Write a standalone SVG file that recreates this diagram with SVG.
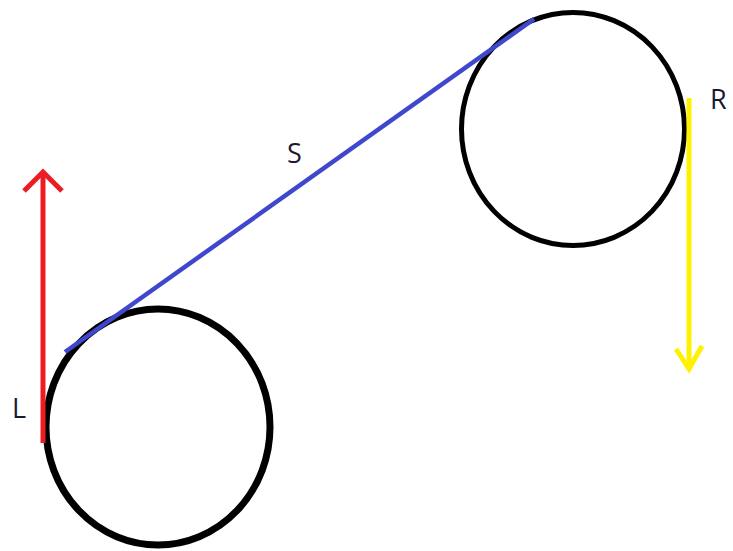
<svg xmlns="http://www.w3.org/2000/svg" width="733" height="551" viewBox="0 0 733 551">
<style>
.lbl{font-family:"Open Sans","Liberation Sans",sans-serif;font-size:27px;fill:#1a1a2e}
.wheel{fill:none;stroke:#000}
</style>
<rect width="733" height="551" fill="#fff"/>
<g id="wheel-left"><ellipse class="wheel" cx="158" cy="427" rx="112" ry="118" stroke-width="7"/></g>
<g id="wheel-right"><ellipse class="wheel" cx="573" cy="129" rx="111.5" ry="116.5" stroke-width="5"/></g>
<g id="connectors">
<line id="S-line" x1="65" y1="352" x2="534" y2="19" stroke="#3f48cc" stroke-width="4.5"/>
<g id="arrow-L" stroke="#ed1c24" stroke-width="5" fill="none">
<line x1="43" y1="443" x2="43" y2="173"/>
<polyline points="24,191 43,172 62,191" stroke-linejoin="miter"/>
</g>
<g id="arrow-R" stroke="#fff200" stroke-width="5" fill="none">
<line x1="689" y1="98" x2="689" y2="370"/>
<polyline points="676,349 689,369 702,346"/>
</g>
</g>
<g id="labels">
<text class="lbl" x="12" y="418">L</text>
<text class="lbl" x="710" y="109">R</text>
<text class="lbl" x="287" y="163">S</text>
</g>
</svg>
